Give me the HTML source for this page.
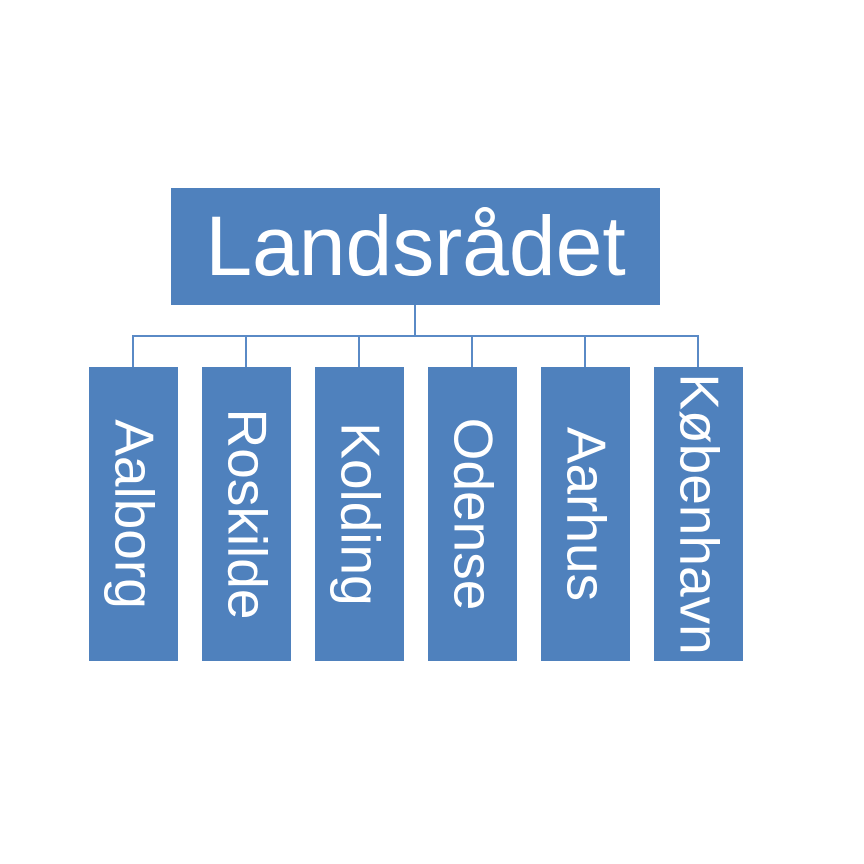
<!DOCTYPE html>
<html><head><style>
body{margin:0;width:864px;height:864px;background:#fff;position:relative;overflow:hidden;font-family:"Liberation Sans",sans-serif}
.b{position:absolute;background:#4F81BD;color:#fff}
.top{left:171px;top:188px;width:489px;height:117px;display:flex;align-items:center;justify-content:center;font-size:84px}
.c{top:367px;width:89px;height:294px}
.c span{position:absolute;left:50%;top:50%;transform:translate(-50%,-50%) rotate(90deg);white-space:nowrap;font-size:55px;line-height:1}
.l{position:absolute;background:#5A8AC6}
</style></head><body>
<div class="b top">Landsrådet</div>
<div class="l" style="left:414px;top:305px;width:2px;height:32px"></div>
<div class="l" style="left:132px;top:335px;width:567px;height:2px"></div>
<div class="l" style="left:132px;top:335px;width:2px;height:32px"></div>
<div class="l" style="left:245px;top:335px;width:2px;height:32px"></div>
<div class="l" style="left:358px;top:335px;width:2px;height:32px"></div>
<div class="l" style="left:471px;top:335px;width:2px;height:32px"></div>
<div class="l" style="left:584px;top:335px;width:2px;height:32px"></div>
<div class="l" style="left:697px;top:335px;width:2px;height:32px"></div>
<div class="b c" style="left:89px"><span>Aalborg</span></div>
<div class="b c" style="left:202px"><span>Roskilde</span></div>
<div class="b c" style="left:315px"><span>Kolding</span></div>
<div class="b c" style="left:428px"><span>Odense</span></div>
<div class="b c" style="left:541px"><span>Aarhus</span></div>
<div class="b c" style="left:654px"><span>København</span></div>
</body></html>
